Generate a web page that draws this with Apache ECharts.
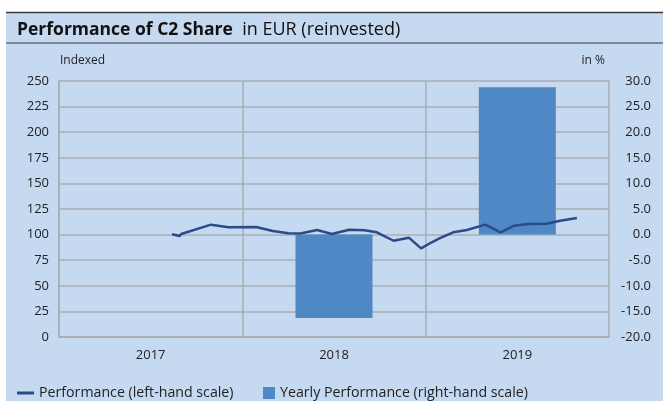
<!DOCTYPE html>
<html>
<head>
<meta charset="utf-8">
<script src="https://cdn.jsdelivr.net/npm/echarts@6/dist/echarts.min.js"></script>
<style>
  html, body { margin: 0; padding: 0; background: #fff; }
  #chart { width: 663px; height: 401px; }
</style>
</head>
<body>
<div id="chart"></div>
<script>
// years on the category axis
var years = ['2017', '2018', '2019'];
// yearly performance in % (right-hand scale)
var yearlyPerf = [null, -16.3, 28.8];
// performance line, x = months since Jan 2017, y = indexed value
var lineMonths = [7.4, 7.9, 8.0, 9.95, 11.1, 12.9, 14.0, 15.0, 15.8, 16.9, 17.85, 19.0, 20.0, 20.8,
  21.9, 22.9, 23.7, 24.4, 24.9, 25.8, 26.7, 27.9, 28.9, 29.8, 30.7, 31.9, 32.8, 33.9];
var lineValues = [100.3, 98.6, 100.6, 109.7, 107.1, 107.4, 103.5, 101.3, 101.1, 104.5, 100.6, 104.8, 104.2, 102.2,
  94.0, 97.0, 86.6, 92.5, 96.4, 102.2, 104.5, 109.7, 102.2, 108.7, 110.4, 110.6, 113.6, 116.2];

var lineData = lineMonths.map(function (m, i) { return [m, lineValues[i]]; });

var bg = '#c5d9f1';
var gridColor = '#a9acb0';
var font = 'Open Sans';

var chart = echarts.init(document.getElementById('chart'));
var option = {
    animation: false,
    textStyle: { fontFamily: font },
    graphic: [
        { type: 'rect', z: -10, shape: { x: 6, y: 12, width: 657, height: 389 }, style: { fill: bg } },
        { type: 'line', shape: { x1: 6, y1: 12.5, x2: 663, y2: 12.5 }, style: { stroke: '#3a3a3a', lineWidth: 1.5 } },
        { type: 'line', shape: { x1: 6, y1: 43, x2: 663, y2: 43 }, style: { stroke: '#3a3a3a', lineWidth: 1.2 } },
        { type: 'text', left: 60, top: 55, style: { text: 'Indexed', font: '12px "Open Sans"', fill: '#222' } },
        { type: 'text', right: 58, top: 55, style: { text: 'in %', font: '12px "Open Sans"', fill: '#222' } }
    ],
    title: {
        left: 12,
        top: 16,
        text: '{b|Performance of C2 Share}{n|  in EUR (reinvested)}',
        textStyle: {
            fontWeight: 'normal',
            rich: {
                b: { fontFamily: font, fontSize: 17.5, fontWeight: 'bold', color: '#111' },
                n: { fontFamily: font, fontSize: 18, fontWeight: 'normal', color: '#111' }
            }
        }
    },
    legend: [
        {
            left: 12, top: 381,
            icon: 'rect', itemWidth: 17, itemHeight: 3,
            data: ['Performance (left-hand scale)'],
            textStyle: { fontFamily: font, fontSize: 14.2, color: '#222' }
        },
        {
            left: 258, top: 381,
            icon: 'rect', itemWidth: 12, itemHeight: 12,
            data: ['Yearly Performance (right-hand scale)'],
            textStyle: { fontFamily: font, fontSize: 14.2, color: '#222' }
        }
    ],
    grid: { left: 59, right: 54, top: 81, bottom: 64 },
    xAxis: [
        {
            type: 'category',
            data: years,
            axisLine: { lineStyle: { color: gridColor, width: 1.5 } },
            axisTick: { show: false },
            axisLabel: { color: '#222', fontSize: 13, margin: 12 },
            splitLine: { show: true, lineStyle: { color: gridColor, width: 1.5 } }
        },
        {
            type: 'value', min: 0, max: 36, show: false
        }
    ],
    yAxis: [
        {
            type: 'value', min: 0, max: 250, interval: 25,
            axisLine: { show: true, lineStyle: { color: gridColor, width: 1.5 } },
            axisTick: { show: false },
            axisLabel: { color: '#222', fontSize: 13, margin: 10 },
            splitLine: { lineStyle: { color: gridColor, width: 1.5 } }
        },
        {
            type: 'value', min: -20, max: 30, interval: 5,
            axisLine: { show: false },
            axisTick: { show: false },
            axisLabel: {
                color: '#222', fontSize: 13, margin: 42, align: 'right',
                formatter: function (v) { return v.toFixed(1); }
            },
            splitLine: { show: false }
        }
    ],
    series: [
        {
            name: 'Yearly Performance (right-hand scale)',
            type: 'bar',
            xAxisIndex: 0,
            yAxisIndex: 1,
            barWidth: 77,
            data: yearlyPerf,
            itemStyle: { color: '#4f88c4' }
        },
        {
            name: 'Performance (left-hand scale)',
            type: 'line',
            xAxisIndex: 1,
            yAxisIndex: 0,
            data: lineData,
            showSymbol: false,
            lineStyle: { color: '#2a4a8a', width: 2.5 },
            itemStyle: { color: '#2a4a8a' },
            z: 5
        }
    ]
};
chart.setOption(option);
</script>
</body>
</html>
